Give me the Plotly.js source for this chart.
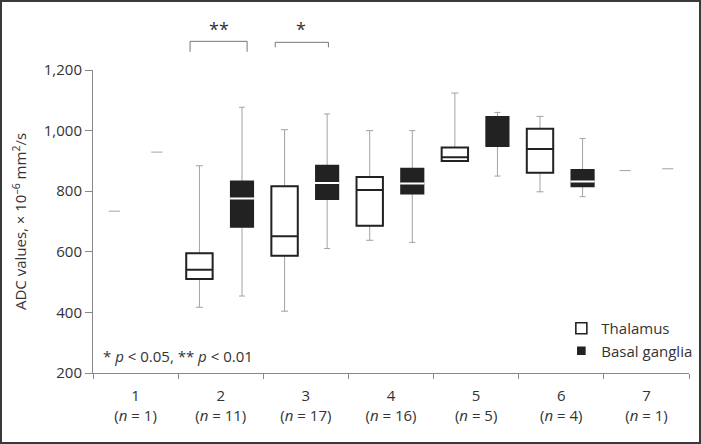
<!DOCTYPE html>
<html>
<head>
<meta charset="utf-8">
<script src="https://cdn.plot.ly/plotly-3.0.1.min.js"></script>
<style>
  body { margin: 0; background: #fff; }
  #wrap { position: relative; width: 701px; height: 444px; }
  #chart { width: 701px; height: 444px; }
  #frame { position: absolute; left: 0; top: 0; width: 701px; height: 444px;
           box-sizing: border-box; border: 2px solid #3a3a3a; pointer-events: none; }
</style>
</head>
<body>
<div id="wrap">
  <div id="chart"></div>
  <div id="frame"></div>
</div>
<script>
// groups on the x axis
const groups = [1, 2, 3, 4, 5, 6, 7];
const counts = [1, 11, 17, 16, 5, 4, 1];

// Thalamus (box stats, null where only one patient)
const thalMin    = [null, 417, 404, 638, 898, 798, null];
const thalQ1     = [null, 510, 587, 686, 900, 861, null];
const thalMedian = [null, 541, 651, 804, 912, 939, null];
const thalQ3     = [null, 595, 816, 847, 944, 1006, null];
const thalMax    = [null, 884, 1003, 1000, 1124, 1047, null];
const thalSingle = [734, null, null, null, null, null, 868];

// Basal ganglia
const basalMin    = [null, 454, 611, 631, 850, 782, null];
const basalQ1     = [null, 683, 774, 792, 949, 816, null];
const basalMedian = [null, 776, 827, 825, 949, 832, null];
const basalQ3     = [null, 832, 884, 874, 1045, 870, null];
const basalMax    = [null, 1077, 1055, 1000, 1060, 974, null];
const basalSingle = [929, null, null, null, null, null, 874];

const yTicks = [200, 400, 600, 800, 1000, 1200];

const OFF = 0.25;
const GREY = '#a3a3a3';
const INK = '#222';
const TXT = '#333';

function pick(arr, idx) { return idx.map(i => arr[i]); }
const boxIdx = groups.map((g, i) => i).filter(i => thalQ1[i] !== null);
const oneIdx = groups.map((g, i) => i).filter(i => thalSingle[i] !== null);

function whiskers(x, lo, hi, q1, med, q3, w) {
  return {
    type: 'box', x: x, lowerfence: lo, upperfence: hi, q1: q1, median: med, q3: q3,
    width: w, whiskerwidth: 0.27, line: { color: GREY, width: 1 },
    fillcolor: 'rgba(0,0,0,0)', showlegend: false, hoverinfo: 'skip'
  };
}
function body(name, x, q1, med, q3, w, fill) {
  return {
    type: 'box', name: name, x: x, lowerfence: q1, upperfence: q3, q1: q1, median: med, q3: q3,
    width: w, whiskerwidth: 0, line: { color: INK, width: 2 },
    fillcolor: fill, showlegend: false, hoverinfo: 'skip'
  };
}
// legend entries only (small squares like the original key)
function key(name, symbol, size) {
  return {
    type: 'scatter', mode: 'markers', name: name, x: [null], y: [null], hoverinfo: 'skip',
    marker: { symbol: symbol, size: size, color: INK, line: { color: INK, width: 1.6 } }
  };
}

const thalX = boxIdx.map(i => groups[i] - OFF);
const basalX = boxIdx.map(i => groups[i] + OFF);

// white median gap across the filled basal boxes
const medIdx = boxIdx.filter(i => basalMedian[i] > basalQ1[i] && basalMedian[i] < basalQ3[i]);
const medVals = pick(basalMedian, medIdx);

const traces = [
  whiskers(thalX, pick(thalMin, boxIdx), pick(thalMax, boxIdx), pick(thalQ1, boxIdx),
           pick(thalMedian, boxIdx), pick(thalQ3, boxIdx), 0.31),
  whiskers(basalX, pick(basalMin, boxIdx), pick(basalMax, boxIdx), pick(basalQ1, boxIdx),
           pick(basalMedian, boxIdx), pick(basalQ3, boxIdx), 0.26),
  body('Thalamus', thalX, pick(thalQ1, boxIdx), pick(thalMedian, boxIdx), pick(thalQ3, boxIdx), 0.31, '#fff'),
  body('Basal ganglia', basalX, pick(basalQ1, boxIdx), pick(basalMedian, boxIdx), pick(basalQ3, boxIdx), 0.26, INK),
  {
    type: 'box', x: medIdx.map(i => groups[i] + OFF),
    lowerfence: medVals, upperfence: medVals, q1: medVals, median: medVals, q3: medVals,
    width: 0.285, whiskerwidth: 0, line: { color: '#fff', width: 2 },
    fillcolor: 'rgba(0,0,0,0)', showlegend: false, hoverinfo: 'skip'
  },
  {
    type: 'scatter', mode: 'markers', showlegend: false, hoverinfo: 'skip',
    x: oneIdx.map(i => groups[i] - OFF).concat(oneIdx.map(i => groups[i] + OFF)),
    y: pick(thalSingle, oneIdx).concat(pick(basalSingle, oneIdx)),
    marker: { symbol: 'line-ew', size: 8, color: GREY, line: { color: GREY, width: 1 } }
  },
  key('Thalamus', 'square-open', 11),
  key('Basal ganglia', 'square', 7)
];

const tickText = groups.map((g, i) => g + '<br>(<i>n</i> = ' + counts[i] + ')');
const bounds = [0.5].concat(groups.map(g => g + 0.5));

const layout = {
  width: 701, height: 444,
  margin: { l: 93, r: 12, t: 70, b: 71, autoexpand: false },
  paper_bgcolor: '#fff', plot_bgcolor: '#fff',
  font: { family: 'Open Sans, sans-serif', size: 15, color: TXT },
  boxmode: 'overlay',
  showlegend: true,
  legend: {
    x: 1.014, y: 0.02, xanchor: 'right', yanchor: 'bottom',
    bgcolor: 'rgba(0,0,0,0)', font: { size: 15, color: TXT }, itemwidth: 30
  },
  xaxis: {
    range: [0.5, 7.5], showgrid: false, zeroline: false, automargin: false,
    showline: true, linecolor: '#888', linewidth: 1,
    tickmode: 'array', tickvals: groups, ticktext: tickText, ticks: '',
    ticklabelstandoff: 9,
    minor: { tickmode: 'array', tickvals: bounds, ticks: 'outside', ticklen: 5, tickcolor: '#888', tickwidth: 1 }
  },
  yaxis: {
    range: [200, 1200], showgrid: false, zeroline: false, automargin: false,
    showline: true, linecolor: '#888', linewidth: 1,
    tickmode: 'array', tickvals: yTicks, tickformat: ',',
    ticks: 'outside', ticklen: 7, tickcolor: '#888',
    title: { text: 'ADC values, × 10<sup>–6</sup> mm<sup>2</sup>/s', standoff: 13, font: { size: 15 } }
  },
  shapes: [
    { type: 'path', xref: 'x', yref: 'paper', path: 'M 1.64,1.060 L 1.64,1.0946 L 2.31,1.0946 L 2.31,1.060',
      line: { color: '#777', width: 1 } },
    { type: 'path', xref: 'x', yref: 'paper', path: 'M 2.64,1.0748 L 2.64,1.0913 L 3.265,1.0913 L 3.265,1.0748',
      line: { color: '#777', width: 1 } }
  ],
  annotations: [
    { xref: 'x', yref: 'paper', x: 1.984, y: 1.135, text: '**', showarrow: false,
      font: { size: 18, color: TXT }, xanchor: 'center', yanchor: 'middle' },
    { xref: 'x', yref: 'paper', x: 2.94, y: 1.135, text: '*', showarrow: false,
      font: { size: 18, color: TXT }, xanchor: 'center', yanchor: 'middle' },
    { xref: 'paper', yref: 'paper', x: 0.013, y: 0.055, xanchor: 'left', yanchor: 'middle',
      text: '* <i>p</i> &lt; 0.05, ** <i>p</i> &lt; 0.01', showarrow: false,
      font: { size: 15, color: TXT } }
  ]
};

Plotly.newPlot('chart', traces, layout, { displayModeBar: false, staticPlot: true });
</script>
</body>
</html>
